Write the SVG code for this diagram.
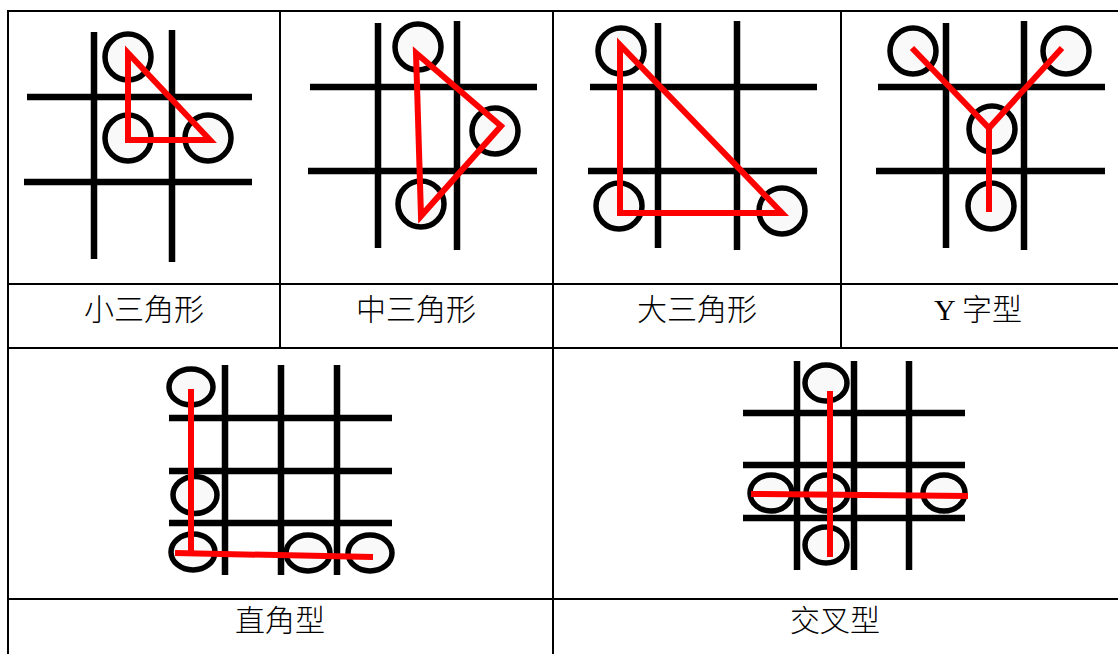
<svg xmlns="http://www.w3.org/2000/svg" width="1118" height="654" viewBox="0 0 1118 654">
<style>
.tbl{stroke:#000;stroke-width:2;fill:none}
.g{stroke:#000;stroke-width:6.5;fill:none}
.c{stroke:#000;stroke-width:5.5;fill:#f9f9f9}
.r{stroke:#ff0000;stroke-width:6;fill:none;stroke-linejoin:miter}
.lbl{font-family:"Liberation Serif","Noto Sans CJK TC","Noto Sans CJK SC",serif;font-size:30px;font-weight:300;fill:#000;text-anchor:middle}
</style>
<rect width="1118" height="654" fill="#fff"/>
<g id="table" class="tbl">
<line x1="8" y1="11" x2="1118" y2="11"/>
<line x1="8" y1="10" x2="8" y2="654"/>
<line x1="8" y1="284" x2="1118" y2="284"/>
<line x1="8" y1="348" x2="1118" y2="348"/>
<line x1="8" y1="599" x2="1118" y2="599"/>
<line x1="280" y1="11" x2="280" y2="348"/>
<line x1="553" y1="11" x2="553" y2="654"/>
<line x1="841" y1="11" x2="841" y2="348"/>
</g>
<g id="small-triangle">
<g class="g"><line x1="94" y1="32" x2="94" y2="259"/><line x1="172" y1="30" x2="172" y2="262"/><line x1="27" y1="97" x2="252" y2="97"/><line x1="24" y1="182" x2="252" y2="182"/></g>
<circle class="c" cx="128" cy="57" r="23"/><circle class="c" cx="128" cy="138" r="23"/><circle class="c" cx="208" cy="138" r="23"/>
<polygon class="r" points="128,53 128,140 210,140"/>
<text class="lbl" x="144" y="320">小三角形</text>
</g>
<g id="medium-triangle">
<g class="g"><line x1="378" y1="23" x2="378" y2="248"/><line x1="457" y1="21" x2="457" y2="250"/><line x1="310" y1="87" x2="537" y2="87"/><line x1="308" y1="171" x2="537" y2="171"/></g>
<circle class="c" cx="418" cy="47" r="23"/><circle class="c" cx="495" cy="131" r="23"/><circle class="c" cx="421" cy="204" r="23"/>
<polygon class="r" points="416,53 501,126 421,216"/>
<text class="lbl" x="416" y="320">中三角形</text>
</g>
<g id="large-triangle">
<g class="g"><line x1="658" y1="23" x2="658" y2="248"/><line x1="737" y1="21" x2="737" y2="250"/><line x1="590" y1="87" x2="817" y2="87"/><line x1="588" y1="171" x2="817" y2="171"/></g>
<circle class="c" cx="621" cy="51" r="23"/><circle class="c" cx="619" cy="206" r="23"/><circle class="c" cx="782" cy="211" r="23"/>
<polygon class="r" points="620,45 620,213 782,213"/>
<text class="lbl" x="697" y="320">大三角形</text>
</g>
<g id="y-shape">
<g class="g"><line x1="946" y1="23" x2="946" y2="248"/><line x1="1024" y1="21" x2="1024" y2="250"/><line x1="878" y1="87" x2="1105" y2="87"/><line x1="876" y1="171" x2="1105" y2="171"/></g>
<circle class="c" cx="913" cy="51" r="23"/><circle class="c" cx="1066" cy="51" r="23"/><circle class="c" cx="992" cy="129" r="23"/><circle class="c" cx="991" cy="206" r="23"/>
<polyline class="r" points="912,48 989,128 1062,48"/>
<line class="r" x1="989" y1="126" x2="989" y2="212"/>
<text class="lbl" x="978" y="320">Y 字型</text>
</g>
<g id="right-angle">
<g class="g"><line x1="225" y1="365" x2="225" y2="575"/><line x1="281" y1="365" x2="281" y2="575"/><line x1="337" y1="365" x2="337" y2="575"/><line x1="169" y1="418" x2="392" y2="418"/><line x1="169" y1="471" x2="392" y2="471"/><line x1="169" y1="523" x2="392" y2="523"/></g>
<ellipse class="c" cx="191" cy="387" rx="22" ry="18"/><ellipse class="c" cx="195" cy="495" rx="22" ry="18.5"/><ellipse class="c" cx="193" cy="552" rx="22" ry="18"/><ellipse class="c" cx="308" cy="553" rx="22" ry="18"/><ellipse class="c" cx="370" cy="553" rx="22" ry="18"/>
<line class="r" x1="191" y1="389" x2="191" y2="554"/>
<line class="r" x1="175" y1="553" x2="373" y2="557"/>
<text class="lbl" x="280" y="631">直角型</text>
</g>
<g id="cross">
<g class="g"><line x1="797" y1="361" x2="797" y2="570"/><line x1="854" y1="361" x2="854" y2="570"/><line x1="909" y1="361" x2="909" y2="570"/><line x1="743" y1="413" x2="965" y2="413"/><line x1="743" y1="465" x2="965" y2="465"/><line x1="743" y1="518" x2="965" y2="518"/></g>
<ellipse class="c" cx="826" cy="383" rx="21" ry="18"/><ellipse class="c" cx="771" cy="493" rx="21" ry="18"/><ellipse class="c" cx="827" cy="493" rx="21" ry="18"/><ellipse class="c" cx="944" cy="493" rx="21" ry="18"/><ellipse class="c" cx="826" cy="545" rx="21" ry="18"/>
<line class="r" x1="830" y1="391" x2="830" y2="557"/>
<line class="r" x1="751" y1="494" x2="968" y2="496"/>
<text class="lbl" x="835" y="631">交叉型</text>
</g>
</svg>
